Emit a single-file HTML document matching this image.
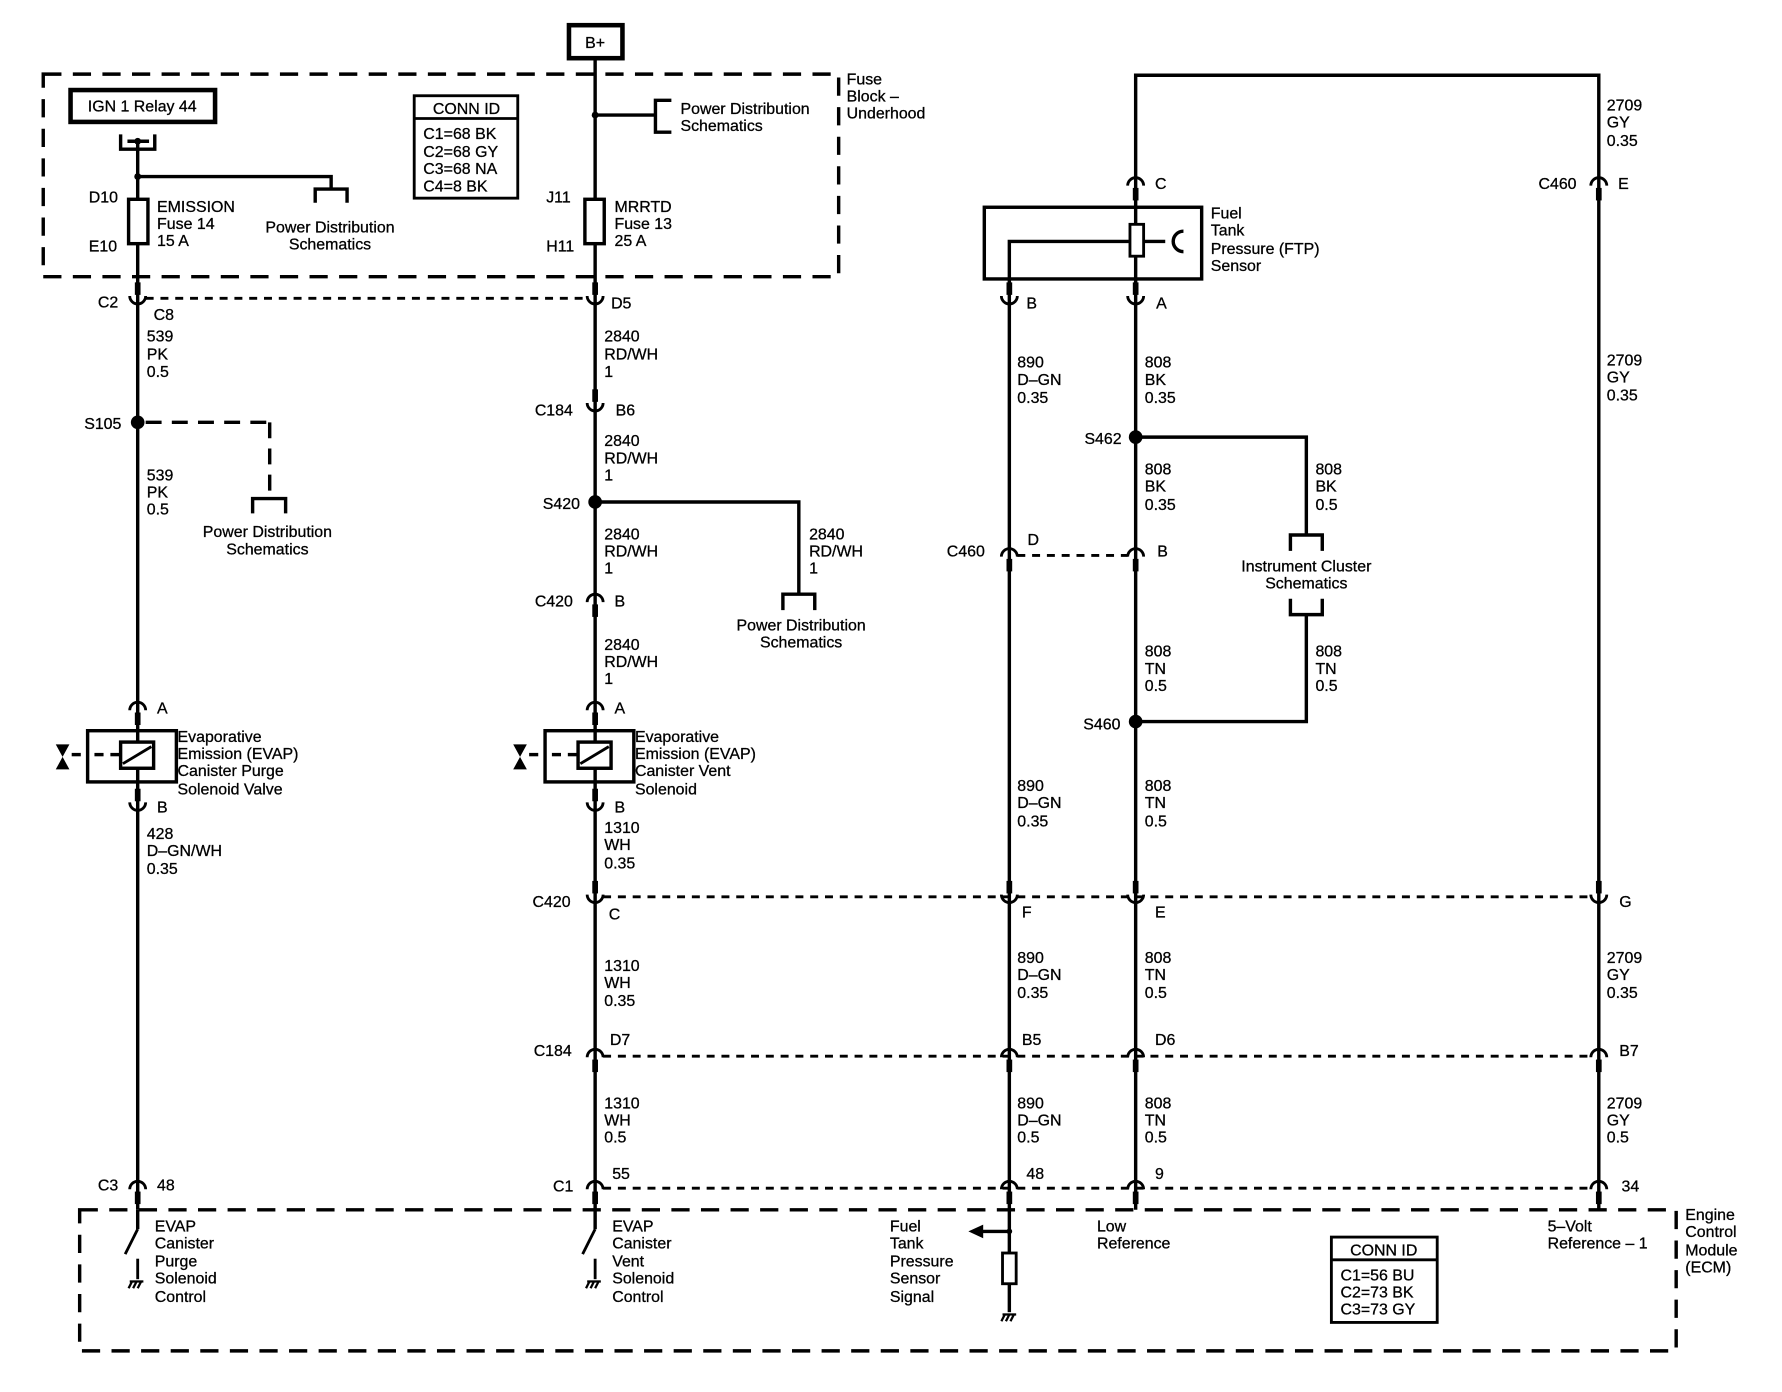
<!DOCTYPE html>
<html><head><meta charset="utf-8"><style>
html,body{margin:0;padding:0;background:#fff}
svg{display:block}
text{font-family:"Liberation Sans",Arial,sans-serif;font-size:14px;fill:#000;stroke:#000;stroke-width:0.25px}
</style></head><body>
<svg width="1782" height="1392" viewBox="0 0 1566 1223" xmlns="http://www.w3.org/2000/svg">
<defs>
<g id="cup"><path d="M-7,-1 A7,7 0 0 0 7,-1" fill="none" stroke="#000" stroke-width="2.5"/><rect x="-2.5" y="-13" width="5" height="11" fill="#000"/></g>
<g id="cap"><path d="M-7,1 A7,7 0 0 1 7,1" fill="none" stroke="#000" stroke-width="2.5"/><rect x="-2.5" y="3" width="5" height="11" fill="#000"/></g>
<g id="gnd" stroke="#000" stroke-width="2" fill="none"><line x1="-5" y1="0" x2="7" y2="0"/><line x1="-3" y1="0" x2="-6" y2="6"/><line x1="1" y1="0" x2="-2" y2="6"/><line x1="5" y1="0" x2="2" y2="6"/></g>
<g id="valve" fill="#000"><path d="M-6,-11 L6,-11 L0,0 Z M-6,11 L6,11 L0,0 Z"/></g>
</defs>

<g fill="none" stroke="#000" stroke-width="3" stroke-dasharray="16,10">
<rect x="38" y="65" width="699" height="178"/>
<rect x="70" y="1063" width="1403" height="124"/>
</g>
<g fill="none" stroke="#000" stroke-width="2.5" stroke-dasharray="7,6">
<line x1="128" y1="262" x2="516" y2="262"/>
<line x1="128" y1="371" x2="237" y2="371" stroke-width="3" stroke-dasharray="14,9"/>
<line x1="237" y1="371" x2="237" y2="437" stroke-width="3" stroke-dasharray="14,9"/>
<line x1="530" y1="788" x2="1398" y2="788"/>
<line x1="530" y1="928" x2="1398" y2="928"/>
<line x1="530" y1="1044" x2="1398" y2="1044"/>
<line x1="894" y1="488" x2="991" y2="488"/>
</g>

<rect x="500" y="22" width="47" height="29" fill="#fff" stroke="#000" stroke-width="4"/>
<text x="523" y="42" text-anchor="middle">B+</text>
<rect x="62" y="79" width="127" height="28" fill="#fff" stroke="#000" stroke-width="4"/>
<text x="125" y="98" text-anchor="middle">IGN 1 Relay 44</text>

<g stroke="#000" stroke-width="3" fill="none">
<path d="M106,118 V131 H136 V118"/>
<line x1="112" y1="124" x2="131" y2="124"/>
<line x1="121" y1="124" x2="121" y2="1063"/>
<path d="M121,155 H291 V166"/>
<path d="M277,178 V166 H305 V178"/>
<line x1="523" y1="51" x2="523" y2="1063"/>
<path d="M523,101 H576"/>
<path d="M590,88 H576 V116 H590"/>
<path d="M222,451 V438 H251 V451"/>
<path d="M523,441 H702 V522"/>
<path d="M688,536 V522 H716 V536"/>
<rect x="113" y="175" width="17" height="39" fill="#fff"/>
<rect x="514" y="175" width="17" height="39" fill="#fff"/>
<path d="M998,1063 V66 H1405 V1063"/>
<path d="M887,1063 V212 H992"/>
<rect x="865" y="182" width="191" height="63"/>
<line x1="1005" y1="212" x2="1024" y2="212"/>
<path d="M1040,203 A9,9 0 0 0 1040,221" stroke-width="3"/>
<path d="M998,384 H1148 V470"/>
<path d="M1134,484 V470 H1162 V484"/>
<path d="M1134,526 V540 H1162 V526"/>
<path d="M1148,540 V634 H998"/>
<rect x="77" y="642" width="78" height="45" fill="none"/>
<rect x="106" y="652" width="29" height="23" fill="#fff"/>
<line x1="108" y1="671" x2="133" y2="656" stroke-width="2.5"/>
<line x1="63" y1="663" x2="71" y2="663"/><line x1="83" y1="663" x2="91" y2="663"/><line x1="97" y1="663" x2="106" y2="663"/>
<rect x="479" y="642" width="78" height="45" fill="none"/>
<rect x="508" y="652" width="29" height="23" fill="#fff"/>
<line x1="510" y1="671" x2="535" y2="656" stroke-width="2.5"/>
<line x1="465" y1="663" x2="473" y2="663"/><line x1="485" y1="663" x2="493" y2="663"/><line x1="499" y1="663" x2="508" y2="663"/>
<line x1="121" y1="1063" x2="121" y2="1080"/>
<line x1="121" y1="1080" x2="110" y2="1102" stroke-width="2.5"/>
<line x1="121" y1="1106" x2="121" y2="1124" stroke-width="2.5"/>
<line x1="523" y1="1063" x2="523" y2="1080"/>
<line x1="523" y1="1080" x2="512" y2="1102" stroke-width="2.5"/>
<line x1="523" y1="1106" x2="523" y2="1124" stroke-width="2.5"/>
<line x1="887" y1="1063" x2="887" y2="1101"/>
<line x1="887" y1="1128" x2="887" y2="1153"/>
<rect x="881" y="1101" width="12" height="27" fill="#fff" stroke-width="2.5"/>
<line x1="887" y1="1082" x2="862" y2="1082"/>
</g>
<path d="M851,1082 L864,1076 L864,1088 Z" fill="#000"/>
<circle cx="887" cy="1082" r="2.5" fill="#000"/>
<rect x="993" y="197" width="12" height="28" fill="#fff" stroke="#000" stroke-width="2.5"/>
<circle cx="121" cy="124" r="3" fill="#000"/>
<circle cx="121" cy="155" r="3" fill="#000"/>
<circle cx="523" cy="101" r="3" fill="#000"/>
<circle cx="121" cy="371" r="6" fill="#000"/>
<circle cx="523" cy="441" r="6" fill="#000"/>
<circle cx="998" cy="384" r="6" fill="#000"/>
<circle cx="998" cy="634" r="6" fill="#000"/>
<use href="#valve" x="55" y="665"/>
<use href="#valve" x="457" y="665"/>
<use href="#gnd" x="119" y="1126"/>
<use href="#gnd" x="521" y="1126"/>
<use href="#gnd" x="886" y="1155"/>

<use href="#cup" x="121" y="261"/><use href="#cup" x="523" y="261"/>
<use href="#cup" x="523" y="355"/>
<use href="#cap" x="523" y="528"/>
<use href="#cap" x="121" y="623"/><use href="#cap" x="523" y="623"/>
<use href="#cup" x="121" y="706"/><use href="#cup" x="523" y="706"/>
<use href="#cup" x="523" y="787"/><use href="#cup" x="887" y="787"/><use href="#cup" x="998" y="787"/><use href="#cup" x="1405" y="787"/>
<use href="#cap" x="523" y="928"/><use href="#cap" x="887" y="928"/><use href="#cap" x="998" y="928"/><use href="#cap" x="1405" y="928"/>
<use href="#cap" x="121" y="1044"/><use href="#cap" x="523" y="1044"/><use href="#cap" x="887" y="1044"/><use href="#cap" x="998" y="1044"/><use href="#cap" x="1405" y="1044"/>
<use href="#cap" x="998" y="162"/><use href="#cap" x="1405" y="162"/>
<use href="#cup" x="887" y="261"/><use href="#cup" x="998" y="261"/>
<use href="#cap" x="887" y="488"/><use href="#cap" x="998" y="488"/>

<g fill="none" stroke="#000" stroke-width="2.5">
<rect x="364" y="84" width="91" height="90"/><line x1="364" y1="104" x2="455" y2="104"/>
<rect x="1170" y="1087" width="93" height="75"/><line x1="1170" y1="1107" x2="1263" y2="1107"/>
</g>
<text x="410" y="100" text-anchor="middle">CONN ID</text>
<text x="372" y="122">C1=68 BK</text><text x="372" y="138">C2=68 GY</text><text x="372" y="153">C3=68 NA</text><text x="372" y="168">C4=8 BK</text>
<text x="1216" y="1103" text-anchor="middle">CONN ID</text>
<text x="1178" y="1125">C1=56 BU</text><text x="1178" y="1140">C2=73 BK</text><text x="1178" y="1155">C3=73 GY</text>

<text x="744" y="74">Fuse</text><text x="744" y="89">Block –</text><text x="744" y="104">Underhood</text>
<text x="598" y="100">Power Distribution</text><text x="598" y="115">Schematics</text>
<text x="290" y="204" text-anchor="middle">Power Distribution</text><text x="290" y="219" text-anchor="middle">Schematics</text>
<text x="78" y="178">D10</text><text x="78" y="221">E10</text>
<text x="138" y="186">EMISSION</text><text x="138" y="201">Fuse 14</text><text x="138" y="216">15 A</text>
<text x="480" y="178">J11</text><text x="480" y="221">H11</text>
<text x="540" y="186">MRRTD</text><text x="540" y="201">Fuse 13</text><text x="540" y="216">25 A</text>
<text x="86" y="270">C2</text><text x="135" y="281">C8</text><text x="537" y="271">D5</text>
<text x="129" y="300">539</text><text x="129" y="316">PK</text><text x="129" y="331">0.5</text>
<text x="74" y="377">S105</text>
<text x="129" y="422">539</text><text x="129" y="437">PK</text><text x="129" y="452">0.5</text>
<text x="235" y="472" text-anchor="middle">Power Distribution</text><text x="235" y="487" text-anchor="middle">Schematics</text>
<text x="531" y="300">2840</text><text x="531" y="316">RD/WH</text><text x="531" y="331">1</text>
<text x="470" y="365">C184</text><text x="541" y="365">B6</text>
<text x="531" y="392">2840</text><text x="531" y="407">RD/WH</text><text x="531" y="422">1</text>
<text x="477" y="447">S420</text>
<text x="531" y="474">2840</text><text x="531" y="489">RD/WH</text><text x="531" y="504">1</text>
<text x="711" y="474">2840</text><text x="711" y="489">RD/WH</text><text x="711" y="504">1</text>
<text x="470" y="533">C420</text><text x="540" y="533">B</text>
<text x="704" y="554" text-anchor="middle">Power Distribution</text><text x="704" y="569" text-anchor="middle">Schematics</text>
<text x="531" y="571">2840</text><text x="531" y="586">RD/WH</text><text x="531" y="601">1</text>
<text x="138" y="627">A</text><text x="540" y="627">A</text>
<text x="156" y="652">Evaporative</text><text x="156" y="667">Emission (EVAP)</text><text x="156" y="682">Canister Purge</text><text x="156" y="698">Solenoid Valve</text>
<text x="558" y="652">Evaporative</text><text x="558" y="667">Emission (EVAP)</text><text x="558" y="682">Canister Vent</text><text x="558" y="698">Solenoid</text>
<text x="138" y="714">B</text><text x="540" y="714">B</text>
<text x="129" y="737">428</text><text x="129" y="752">D–GN/WH</text><text x="129" y="768">0.35</text>
<text x="531" y="732">1310</text><text x="531" y="747">WH</text><text x="531" y="763">0.35</text>
<text x="468" y="797">C420</text><text x="535" y="808">C</text><text x="898" y="806">F</text><text x="1015" y="806">E</text><text x="1423" y="797">G</text>
<text x="531" y="853">1310</text><text x="531" y="868">WH</text><text x="531" y="884">0.35</text>
<text x="894" y="846">890</text><text x="894" y="861">D–GN</text><text x="894" y="877">0.35</text>
<text x="1006" y="846">808</text><text x="1006" y="861">TN</text><text x="1006" y="877">0.5</text>
<text x="1412" y="846">2709</text><text x="1412" y="861">GY</text><text x="1412" y="877">0.35</text>
<text x="469" y="928">C184</text><text x="536" y="918">D7</text><text x="898" y="918">B5</text><text x="1015" y="918">D6</text><text x="1423" y="928">B7</text>
<text x="531" y="974">1310</text><text x="531" y="989">WH</text><text x="531" y="1004">0.5</text>
<text x="894" y="974">890</text><text x="894" y="989">D–GN</text><text x="894" y="1004">0.5</text>
<text x="1006" y="974">808</text><text x="1006" y="989">TN</text><text x="1006" y="1004">0.5</text>
<text x="1412" y="974">2709</text><text x="1412" y="989">GY</text><text x="1412" y="1004">0.5</text>
<text x="86" y="1046">C3</text><text x="138" y="1046">48</text>
<text x="486" y="1047">C1</text><text x="538" y="1036">55</text>
<text x="902" y="1036">48</text><text x="1015" y="1036">9</text><text x="1425" y="1047">34</text>
<text x="136" y="1082">EVAP</text><text x="136" y="1097">Canister</text><text x="136" y="1113">Purge</text><text x="136" y="1128">Solenoid</text><text x="136" y="1144">Control</text>
<text x="538" y="1082">EVAP</text><text x="538" y="1097">Canister</text><text x="538" y="1113">Vent</text><text x="538" y="1128">Solenoid</text><text x="538" y="1144">Control</text>
<text x="782" y="1082">Fuel</text><text x="782" y="1097">Tank</text><text x="782" y="1113">Pressure</text><text x="782" y="1128">Sensor</text><text x="782" y="1144">Signal</text>
<text x="964" y="1082">Low</text><text x="964" y="1097">Reference</text>
<text x="1360" y="1082">5–Volt</text><text x="1360" y="1097">Reference – 1</text>
<text x="1481" y="1072">Engine</text><text x="1481" y="1087">Control</text><text x="1481" y="1103">Module</text><text x="1481" y="1118">(ECM)</text>
<text x="1412" y="97">2709</text><text x="1412" y="112">GY</text><text x="1412" y="128">0.35</text>
<text x="1015" y="166">C</text><text x="1352" y="166">C460</text><text x="1422" y="166">E</text>
<text x="1064" y="192">Fuel</text><text x="1064" y="207">Tank</text><text x="1064" y="223">Pressure (FTP)</text><text x="1064" y="238">Sensor</text>
<text x="902" y="271">B</text><text x="1016" y="271">A</text>
<text x="894" y="323">890</text><text x="894" y="338">D–GN</text><text x="894" y="354">0.35</text>
<text x="1006" y="323">808</text><text x="1006" y="338">BK</text><text x="1006" y="354">0.35</text>
<text x="1412" y="321">2709</text><text x="1412" y="336">GY</text><text x="1412" y="352">0.35</text>
<text x="953" y="390">S462</text>
<text x="1006" y="417">808</text><text x="1006" y="432">BK</text><text x="1006" y="448">0.35</text>
<text x="1156" y="417">808</text><text x="1156" y="432">BK</text><text x="1156" y="448">0.5</text>
<text x="832" y="489">C460</text><text x="903" y="479">D</text><text x="1017" y="489">B</text>
<text x="1148" y="502" text-anchor="middle">Instrument Cluster</text><text x="1148" y="517" text-anchor="middle">Schematics</text>
<text x="1006" y="577">808</text><text x="1006" y="592">TN</text><text x="1006" y="607">0.5</text>
<text x="1156" y="577">808</text><text x="1156" y="592">TN</text><text x="1156" y="607">0.5</text>
<text x="952" y="641">S460</text>
<text x="894" y="695">890</text><text x="894" y="710">D–GN</text><text x="894" y="726">0.35</text>
<text x="1006" y="695">808</text><text x="1006" y="710">TN</text><text x="1006" y="726">0.5</text>
</svg>
</body></html>
